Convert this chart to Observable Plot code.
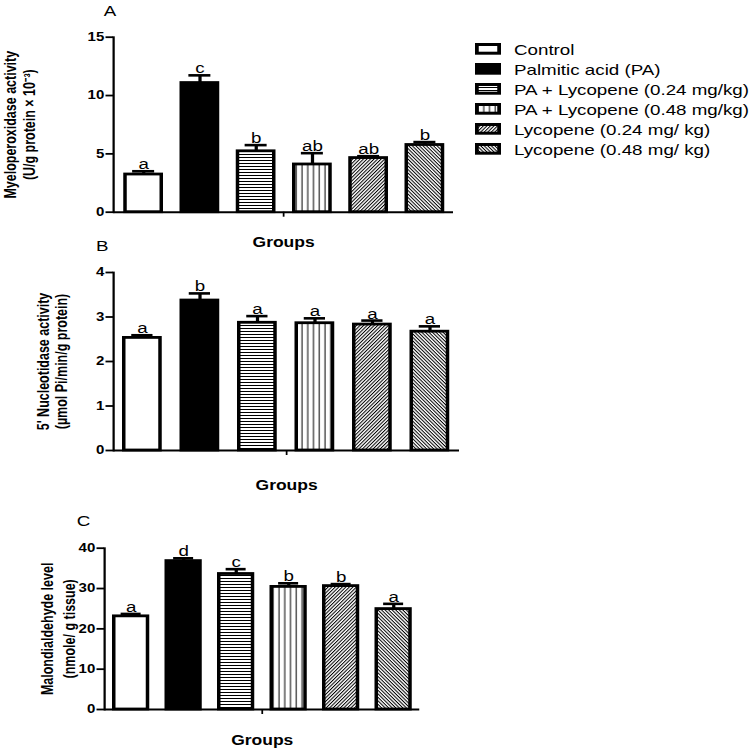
<!DOCTYPE html>
<html><head><meta charset="utf-8">
<script src="https://cdn.jsdelivr.net/npm/d3@7"></script>
<script src="https://cdn.jsdelivr.net/npm/@observablehq/plot@0.6"></script>
<style>
html,body{margin:0;padding:0;background:#fff;overflow:hidden;width:749px;height:750px;}
#stage{position:absolute;left:0;top:0;width:599.2px;height:750px;transform:scaleX(1.25);transform-origin:0 0;font-family:"Liberation Sans",Arial,sans-serif;}
.panel{position:absolute;left:0;}
#legend{position:absolute;left:380px;top:39px;}
.row{display:flex;align-items:center;height:20px;white-space:nowrap;font-size:15px;color:#000;}
.row svg{margin-right:10.4px;flex:none;}
</style></head><body>
<svg width="0" height="0" style="position:absolute"><defs>
<pattern id="hz" patternUnits="userSpaceOnUse" width="4" height="3"><rect width="4" height="3" fill="#fff"/><rect y="1" width="4" height="1" fill="#000"/></pattern>
<pattern id="vt" patternUnits="userSpaceOnUse" width="4.6" height="4"><rect width="4.6" height="4" fill="#fff"/><rect x="2" width="0.8" height="4" fill="#000"/></pattern>
<pattern id="d1" patternUnits="userSpaceOnUse" width="4" height="2.2" patternTransform="rotate(-51)"><rect width="4" height="2.2" fill="#fff"/><rect width="4" height="0.9" fill="#000"/></pattern>
<pattern id="d2" patternUnits="userSpaceOnUse" width="4" height="2.2" patternTransform="rotate(51)"><rect width="4" height="2.2" fill="#fff"/><rect width="4" height="0.9" fill="#000"/></pattern>
</defs></svg>
<div id="stage"></div>
<script>
// ---- data ----
const groups = ["Control", "Palmitic acid (PA)", "PA + Lycopene (0.24 mg/kg)", "PA + Lycopene (0.48 mg/kg)", "Lycopene (0.24 mg/ kg)", "Lycopene (0.48 mg/ kg)"];

const mpoMean = [3.23, 11.07, 5.22, 4.09, 4.64, 5.76];
const mpoErr = [0.28, 0.66, 0.53, 0.97, 0.16, 0.25];
const mpoSig = ["a", "c", "b", "ab", "ab", "b"];
const mpoTicks = [0, 5, 10, 15];

const ntMean = [2.53, 3.37, 2.87, 2.86, 2.83, 2.67];
const ntErr = [0.06, 0.16, 0.15, 0.11, 0.09, 0.12];
const ntSig = ["a", "b", "a", "a", "a", "a"];
const ntTicks = [0, 1, 2, 3, 4];

const mdaMean = [23.1, 36.8, 33.6, 30.4, 30.6, 24.9];
const mdaErr = [0.6, 0.7, 1.2, 0.9, 0.5, 1.3];
const mdaSig = ["a", "d", "c", "b", "b", "a"];
const mdaTicks = [0, 10, 20, 30, 40];

// ---- styles ----
const fills = ["#ffffff", "#000000", "url(#hz)", "url(#vt)", "url(#d1)", "url(#d2)"];
const FONT = '"Liberation Sans", Arial, sans-serif';

function panel(cfg) {
  const rows = groups.map((g, i) => ({group: g, mean: cfg.mean[i], err: cfg.err[i], sig: cfg.sig[i]}));
  const top = d => d.mean + d.err;
  return Plot.plot({
    width: 380, height: cfg.height,
    marginLeft: cfg.ml, marginRight: cfg.mr, marginTop: cfg.mt, marginBottom: cfg.mb,
    style: {background: "transparent", fontFamily: FONT, fontSize: "12px", fontWeight: "bold", color: "#000", overflow: "visible"},
    x: {domain: groups, paddingInner: 0.36, paddingOuter: 0.18, axis: null},
    y: {domain: [0, cfg.ticks[cfg.ticks.length - 1]], axis: null},
    color: {domain: groups, range: fills},
    marks: [
      Plot.barY(rows, {x: "group", y: "mean", fill: "group", stroke: "#000", strokeWidth: 2.8}),
      Plot.ruleX(rows, {x: "group", y1: "mean", y2: top, stroke: "#000", strokeWidth: 2.6}),
      Plot.tickY(rows, {x: "group", y: top, stroke: "#000", strokeWidth: 2.6, insetLeft: cfg.capInset, insetRight: cfg.capInset}),
      Plot.text(rows, {x: "group", y: top, text: "sig", lineAnchor: "bottom", dy: -2, fontFamily: FONT, fontSize: 15, fontWeight: "normal", fill: "#000"}),
      Plot.axisY({ticks: cfg.ticks, tickSize: 6, tickPadding: 1.5, tickFormat: d => String(d), label: null, fontFamily: FONT, fontSize: 12, fontWeight: "bold", strokeWidth: 1.8}),
      Plot.frame({anchor: "left", stroke: "#000", strokeWidth: 1.8}),
      Plot.ruleY([0], {stroke: "#000", strokeWidth: 2}),
      Plot.ruleX([0], {x: null, y1: 0, y2: 0, insetTop: 0, insetBottom: -5, stroke: "#000", strokeWidth: 1.4}),
      Plot.text([cfg.title], {text: d => d, frameAnchor: "left", textAnchor: "middle", rotate: -90, dx: cfg.titleDx, fontFamily: FONT, fontSize: 12.5, fontWeight: "bold", lineHeight: cfg.lh, fill: "#000"}),
      Plot.text(["Groups"], {text: d => d, frameAnchor: "bottom", dy: cfg.groupsDy, fontFamily: FONT, fontSize: 14, fontWeight: "bold", fill: "#000"}),
      Plot.text([cfg.letter], {text: d => d, frameAnchor: "top-left", textAnchor: "middle", dx: cfg.letterDx, dy: cfg.letterDy, fontFamily: FONT, fontSize: 15, fontWeight: "normal", fill: "#000"})
    ]
  });
}

const stage = document.getElementById("stage");
function place(node, top) {
  const wrap = document.createElement("div");
  wrap.className = "panel";
  wrap.style.top = top + "px";
  wrap.appendChild(node);
  stage.appendChild(wrap);
}

place(panel({mean: mpoMean, err: mpoErr, sig: mpoSig, ticks: mpoTicks, height: 252, ml: 90.4, mr: 17.6, mt: 36.7, mb: 40.3,
  capInset: 5.7, title: "Myeloperoxidase activity\n(U/g protein × 10⁻³)", titleDx: -75.5, lh: 1.24,
  groupsDy: 35, letter: "A", letterDx: -3, letterDy: -32}), 0);

place(panel({mean: ntMean, err: ntErr, sig: ntSig, ticks: ntTicks, height: 260, ml: 90.4, mr: 12.8, mt: 32, mb: 50,
  capInset: 6, title: "5' Nucleotidase activity\n(µmol Pi/min/g protein)", titleDx: -48.8, lh: 1.15,
  groupsDy: 39, letter: "B", letterDx: -9.2, letterDy: -32}), 240);

place(panel({mean: mdaMean, err: mdaErr, sig: mdaSig, ticks: mdaTicks, height: 245, ml: 83.2, mr: 44.6, mt: 42.7, mb: 41,
  capInset: 5.5, title: "Malondialdehyde level\n(nmole/ g tissue)", titleDx: -38.3, lh: 1.4,
  groupsDy: 35, letter: "C", letterDx: -16.8, letterDy: -32.7}), 505);

// ---- legend ----
const legend = document.createElement("div");
legend.id = "legend";
groups.forEach((g, i) => {
  const row = document.createElement("div");
  row.className = "row";
  const s = d3.create("svg").attr("width", 20.8).attr("height", 11.7);
  s.append("rect").attr("x", 1.5).attr("y", 1.5).attr("width", 17.8).attr("height", 8.7)
    .attr("fill", fills[i]).attr("stroke", "#000").attr("stroke-width", 3);
  row.appendChild(s.node());
  const t = document.createElement("span");
  t.textContent = g;
  row.appendChild(t);
  legend.appendChild(row);
});
stage.appendChild(legend);
</script>
</body></html>
